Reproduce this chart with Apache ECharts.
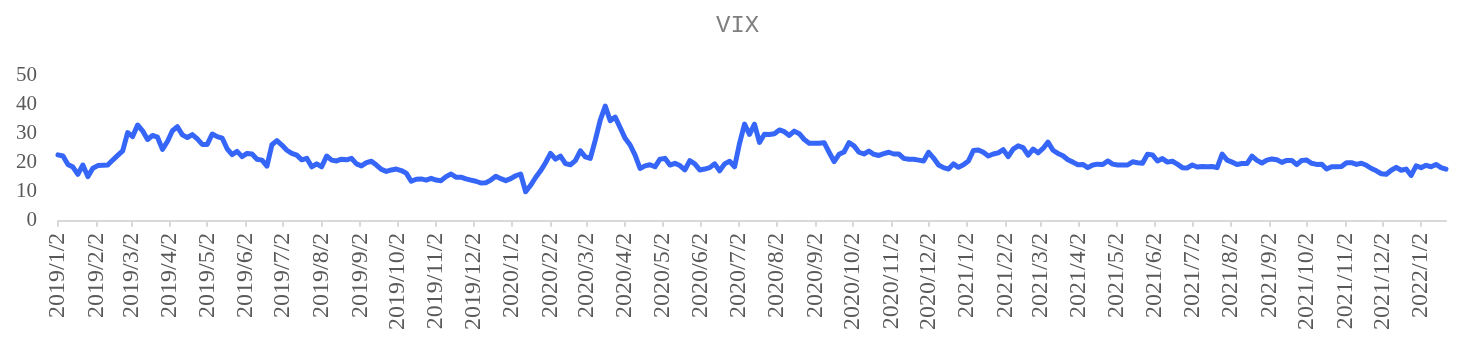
<!DOCTYPE html>
<html>
<head>
<meta charset="utf-8">
<script src="https://cdn.jsdelivr.net/npm/echarts@6/dist/echarts.min.js"></script>
<style>
html,body{margin:0;padding:0;background:#fff;}
#chart{width:1458px;height:342px;}
</style>
</head>
<body>
<div id="chart"></div>
<script>
// Axis span (calendar days, one category per day)
const startDate = [2019, 1, 2];
const endDate = [2022, 1, 22];
// VIX values, one every 4 calendar days from 2019/1/2
const sampleStepDays = 4;
const vix = [
  22.7, 22.3, 19.4, 18.5, 16.0, 19.2, 15.2, 18.1, 19.0, 19.1, 19.2, 20.9, 22.5, 24.1, 30.4, 29.0,
  33.0, 31.0, 28.0, 29.4, 28.8, 24.6, 27.3, 31.0, 32.4, 29.6, 28.7, 29.7, 28.2, 26.3, 26.3, 29.9,
  29.0, 28.5, 24.8, 22.8, 23.9, 22.1, 23.2, 23.0, 21.2, 20.9, 18.8, 26.2, 27.6, 26.1, 24.3,
  23.2, 22.6, 21.0, 21.5, 18.6, 19.6, 18.6, 22.3, 20.9, 20.6, 21.2, 21.0, 21.5, 19.6, 18.9, 20.0,
  20.5, 19.2, 17.7, 17.0, 17.5, 17.8, 17.3, 16.4, 13.6, 14.3, 14.4, 14.0, 14.6, 14.0, 13.8, 15.2,
  16.1, 15.0, 15.0, 14.4, 14.0, 13.6, 13.0, 13.1, 14.0, 15.3, 14.5, 13.8, 14.5, 15.5,
  16.1, 10.0, 12.2, 14.9, 17.2, 20.0, 23.2, 21.2, 22.3, 19.7, 19.3, 20.7, 24.1, 22.0, 21.5, 27.8,
  34.7, 39.5, 34.5, 35.7, 32.1, 28.4, 26.1, 22.6, 18.0, 18.9, 19.3, 18.6, 21.2, 21.5, 19.2, 19.8,
  19.0, 17.5, 20.7, 19.6, 17.5, 17.8, 18.3, 19.6, 17.2, 19.6, 20.5, 18.6, 26.7, 33.3,
  29.8, 33.3, 27.0, 29.8, 29.7, 30.0, 31.3, 30.7, 29.4, 30.9, 30.0, 28.0, 26.7, 26.7, 26.7, 26.9,
  23.6, 20.4, 22.9, 23.7, 26.9, 25.8, 23.6, 23.0, 24.0, 22.9, 22.5, 23.1, 23.6, 23.0, 23.0, 21.5,
  21.2, 21.2, 20.9, 20.6, 23.6, 21.6, 19.2, 18.3, 17.8, 19.6, 18.4, 19.3, 20.6, 24.2,
  24.4, 23.6, 22.3, 23.0, 23.4, 24.5, 22.1, 24.7, 25.8, 25.2, 22.6, 24.7, 23.4, 24.9, 27.1, 24.3,
  23.2, 22.4, 21.0, 20.2, 19.3, 19.4, 18.3, 19.2, 19.5, 19.4, 20.6, 19.5, 19.2, 19.2, 19.2, 20.3,
  20.0, 19.8, 22.9, 22.7, 20.6, 21.4, 20.2, 20.5, 19.5, 18.3, 18.2, 19.2, 18.5, 18.7, 18.6,
  18.7, 18.3, 23.0, 20.9, 20.2, 19.4, 19.7, 19.7, 22.3, 20.8, 19.9, 20.9, 21.3, 21.0, 20.1, 20.8,
  20.8, 19.3, 20.8, 20.9, 19.8, 19.4, 19.5, 17.8, 18.6, 18.6, 18.7, 20.0, 20.0, 19.4, 19.8, 19.1,
  18.0, 17.2, 16.2, 16.0, 17.4, 18.4, 17.4, 17.8, 15.6, 18.9, 18.3, 19.1, 18.6, 19.4, 18.3, 17.8
];
const yTicks = [0, 10, 20, 30, 40, 50];

// Build daily categories
const categories = [];
{
  const d = new Date(Date.UTC(startDate[0], startDate[1] - 1, startDate[2]));
  const end = new Date(Date.UTC(endDate[0], endDate[1] - 1, endDate[2]));
  while (d <= end) {
    categories.push(d.getUTCFullYear() + '/' + (d.getUTCMonth() + 1) + '/' + d.getUTCDate());
    d.setUTCDate(d.getUTCDate() + 1);
  }
}
const seriesData = categories.map(() => null);
vix.forEach((v, i) => { const idx = i * sampleStepDays; if (idx < seriesData.length) seriesData[idx] = v; });

const isMonthMark = (idx, val) => val.split('/')[2] === '2';

const chart = echarts.init(document.getElementById('chart'), null, {renderer: 'canvas'});
chart.setOption({
  animation: false,
  backgroundColor: '#ffffff',
  title: {
    text: 'VIX',
    left: 711,
    top: 9,
    textStyle: {fontFamily: 'Liberation Mono', fontSize: 24, fontWeight: 'normal', color: '#7f7f7f'}
  },
  grid: {left: 58, right: 12, top: 75.7, bottom: 121.3, containLabel: false},
  xAxis: {
    type: 'category',
    data: categories,
    boundaryGap: false,
    axisLine: {show: true, lineStyle: {color: '#d9d9d9', width: 2}},
    axisTick: {show: true, interval: isMonthMark, length: 6, lineStyle: {color: '#d9d9d9', width: 2}},
    axisLabel: {
      interval: isMonthMark,
      rotate: 90,
      margin: 12,
      fontFamily: 'Liberation Serif',
      fontSize: 24,
      color: '#595959',
      hideOverlap: false
    },
    splitLine: {show: false}
  },
  yAxis: {
    type: 'value',
    min: yTicks[0],
    max: yTicks[yTicks.length - 1],
    interval: 10,
    axisLine: {show: false},
    axisTick: {show: false},
    splitLine: {show: false},
    axisLabel: {margin: 21, fontFamily: 'Liberation Serif', fontSize: 21, color: '#595959'}
  },
  series: [{
    type: 'line',
    data: seriesData,
    connectNulls: true,
    showSymbol: false,
    symbol: 'none',
    lineStyle: {color: '#3566f8', width: 5, join: 'round', cap: 'round'},
    itemStyle: {color: '#3566f8'}
  }]
});
</script>
</body>
</html>
